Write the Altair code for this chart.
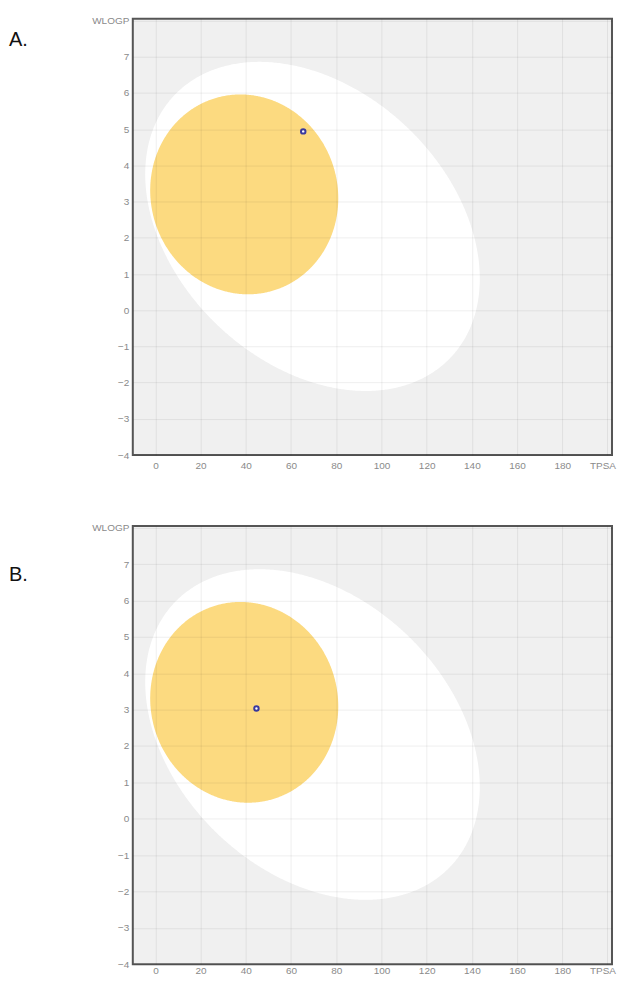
import numpy as np
import pandas as pd
import altair as alt

# ---- axis ticks ----
TPSA_TICKS = list(range(0, 201, 20))
WLOGP_TICKS = list(range(-4, 9))
TPSA_DOMAIN = [-10, 202]
WLOGP_DOMAIN = [-4, 8.05]

# ---- BOILED-Egg regions ----
# centre TPSA, centre WLOGP, TPSA half-range, WLOGP half-range, tilt phase
WHITE = dict(cx=69.5, cy=2.315, a=74.0, b=4.545, phi=1.894)
YOLK = dict(cx=39.3, cy=3.2, a=41.6, b=2.76, phi=1.611)

# ---- molecules ----
PANEL_LABELS = ["A.", "B."]
MOL_TPSA = [65.4, 44.7]
MOL_WLOGP = [4.94, 3.03]
PANEL_W = [480, 480]
PANEL_H = [437, 439]
LABEL_X = [-124, -124]
LABEL_Y = [27, 55]
X_LABEL_PAD = [5, 1]


def ellipse_band(cx, cy, a, b, phi, n=361):
    s = np.linspace(0, np.pi, n)
    u = np.cos(s)
    root = np.sqrt(np.clip(1 - u ** 2, 0, None))
    return pd.DataFrame({
        "tpsa": cx + a * u,
        "hi": cy + b * (u * np.cos(phi) + root * np.sin(phi)),
        "lo": cy + b * (u * np.cos(phi) - root * np.sin(phi)),
    })


white_df = ellipse_band(**WHITE)
yolk_df = ellipse_band(**YOLK)

LABEL_STYLE = dict(labelColor="#8a8a8a", labelFontSize=10, labelFont="Liberation Sans",
                   ticks=False, domain=False, title=None, grid=True,
                   gridColor="black", gridOpacity=0.07, zindex=1, labelFlush=False)

yaxis = alt.Axis(values=WLOGP_TICKS, labelPadding=4,
                 labelExpr="datum.value == 8 ? 'WLOGP' : datum.label", **LABEL_STYLE)
xs = alt.Scale(domain=TPSA_DOMAIN, nice=False, zero=False)
ys = alt.Scale(domain=WLOGP_DOMAIN, nice=False, zero=False)


def panel(i):
    xaxis = alt.Axis(values=TPSA_TICKS, labelPadding=X_LABEL_PAD[i],
                     labelOffset=alt.expr("datum.value == 200 ? -5 : 0"),
                     labelExpr="datum.value == 200 ? 'TPSA' : datum.label", **LABEL_STYLE)
    white = alt.Chart(white_df).mark_area(color="#ffffff", opacity=1).encode(
        x=alt.X("tpsa:Q", scale=xs, axis=xaxis),
        y=alt.Y("hi:Q", scale=ys, axis=yaxis),
        y2="lo:Q",
    )
    yolk = alt.Chart(yolk_df).mark_area(color="#fcda80", opacity=1).encode(
        x=alt.X("tpsa:Q", scale=xs, axis=xaxis),
        y=alt.Y("hi:Q", scale=ys, axis=yaxis),
        y2="lo:Q",
    )
    mol = alt.Chart(pd.DataFrame({"tpsa": [MOL_TPSA[i]], "wlogp": [MOL_WLOGP[i]]})).mark_point(
        shape="circle", size=20, filled=True, fill="#ffffff", stroke="#3a3aa0",
        strokeWidth=2, opacity=1
    ).encode(
        x=alt.X("tpsa:Q", scale=xs, axis=xaxis),
        y=alt.Y("wlogp:Q", scale=ys, axis=yaxis),
    )
    lab = alt.Chart(pd.DataFrame({"lab": [PANEL_LABELS[i]]})).mark_text(
        align="left", baseline="alphabetic", fontSize=20, font="Liberation Sans", color="#111111"
    ).encode(x=alt.value(LABEL_X[i]), y=alt.value(LABEL_Y[i]), text="lab:N")
    return alt.layer(white, yolk, mol, lab).properties(width=PANEL_W[i], height=PANEL_H[i])


chart = alt.vconcat(panel(0), panel(1), spacing=50).properties(
    padding={"left": 0, "top": 5, "right": 0, "bottom": 0}
).configure_view(fill="#f0f0f0", stroke="#555555", strokeWidth=2)

chart.save("out.html", embed_options={"renderer": "svg", "actions": False})
